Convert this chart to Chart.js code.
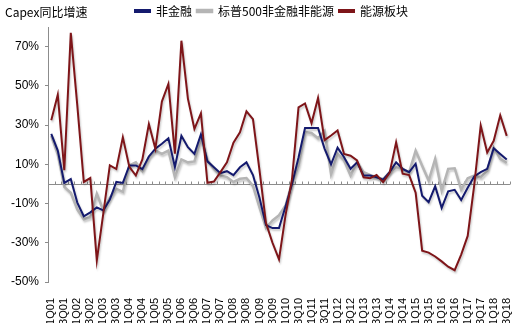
<!DOCTYPE html>
<html>
<head>
<meta charset="utf-8">
<script src="https://cdn.jsdelivr.net/npm/chart.js@4"></script>
<style>
  html, body { margin: 0; padding: 0; background: #fff; }
  #wrap { position: relative; width: 528px; height: 323px; }
  #title { position: absolute; left: 5px; top: 3px; font: 12px "Noto Sans CJK SC", sans-serif; color: #000; }
</style>
</head>
<body>
<div id="wrap">
  <canvas id="capexChart"></canvas>
  <div id="title">Capex同比增速</div>
</div>
<script>
// 季度
const quarters = [
  '1Q01','2Q01','3Q01','4Q01','1Q02','2Q02','3Q02','4Q02',
  '1Q03','2Q03','3Q03','4Q03','1Q04','2Q04','3Q04','4Q04',
  '1Q05','2Q05','3Q05','4Q05','1Q06','2Q06','3Q06','4Q06',
  '1Q07','2Q07','3Q07','4Q07','1Q08','2Q08','3Q08','4Q08',
  '1Q09','2Q09','3Q09','4Q09','1Q10','2Q10','3Q10','4Q10',
  '1Q11','2Q11','3Q11','4Q11','1Q12','2Q12','3Q12','4Q12',
  '1Q13','2Q13','3Q13','4Q13','1Q14','2Q14','3Q14','4Q14',
  '1Q15','2Q15','3Q15','4Q15','1Q16','2Q16','3Q16','4Q16',
  '1Q17','2Q17','3Q17','4Q17','1Q18','2Q18','3Q18'
];

// 非金融
const nonFinancial = [
  25.5, 17, 0.5, 2.5, -9.5, -16.5, -14.5, -12,
  -13.5, -8, 1, 0.5, 9.4, 9.4, 7.5, 14,
  18, 20.5, 23.3, 8.6, 24.5, 18.7, 15.3, 25.3,
  11.5, 8.5, 5.5, 6.5, 4.5, 8.5, 11, 4.5,
  -7, -21, -22.5, -22.5, -11.5, 0, 13.5, 28.5,
  28.5, 28.5, 18, 10, 18.5, 13.6, 7.7, 11,
  4.3, 4.3, 3.4, 2.2, 6, 11, 7.7, 6,
  10.3, -6, -9.3, -1.2, -12.2, -3.8, -3, -8.2,
  -2, 3.8, 6, 7.7, 18.2, 15.3, 12.5
];

// 标普500非金融非能源
const spxExEnergy = [
  24.5, 15, -1.5, -4.5, -13, -18, -17, -5,
  -13.5, -7, -2.5, -4, 9.4, 11, 6.5, 13.6,
  17, 15.3, 17, 3.5, 12.5, 11, 11.5, 23,
  12, 7.7, 4.3, 3.5, 1, 2.6, 3, -1,
  -12, -22.5, -18.6, -16, -11, 0.8, 9.3, 26.5,
  26, 23.3, 27, 5, 15.3, 12, 4.3, 11,
  6, 4.6, 3.4, 2.5, 6, 8.5, 7.7, 6,
  17, 9.3, 1.7, 12.8, -3.4, 7.7, 8, -2.9,
  2.9, 4.3, 3.4, 6.8, 18.6, 12.8, 10.7
];

// 能源板块
const energy = [
  32.5, 45.5, 7, 77, 40, 1, 3, -39,
  -15, 9.5, 7.6, 23.8, 8.7, 4.3, 12.5, 30.5,
  18, 42, 51, 15.4, 73, 43.5, 28, 36,
  0.6, 1.2, 6, 11, 21, 26.3, 37, 33,
  7, -20, -30, -38.5, -16, 2.5, 39, 41,
  31, 43.8, 22.3, 24.7, 27.3, 15.3, 14.4, 12,
  3.4, 2.9, 4.6, 0.9, 5.6, 21.2, 5.2, 4.5,
  -4.5, -34, -35, -37, -39.5, -42.2, -44, -36,
  -26.5, -0.8, 29.7, 16, 22, 35, 24.5
];

// 纵轴刻度
const yTicks = [-50, -30, -10, 10, 30, 50, 70];

// 零线和季度刻度, 图例右移
const zeroLine = {
  id: 'zeroLine',
  afterLayout(chart) {
    chart.legend.left += 10;
    chart.legend.right += 10;
  },
  beforeDatasetsDraw(chart) {
    const { ctx, chartArea, scales } = chart;
    const y0 = Math.round(scales.y.getPixelForValue(0)) + 0.5;
    const step = scales.x.getPixelForValue(1) - scales.x.getPixelForValue(0);
    ctx.save();
    ctx.strokeStyle = '#8c8c8c';
    ctx.lineWidth = 1;
    ctx.beginPath();
    ctx.moveTo(chartArea.left, y0);
    ctx.lineTo(chartArea.right, y0);
    for (let i = 0; i <= quarters.length; i++) {
      const x = Math.round(scales.x.getPixelForValue(i) - step / 2) + 0.5;
      ctx.moveTo(x, y0);
      ctx.lineTo(x, y0 - 3);
    }
    ctx.stroke();
    ctx.restore();
  },
  beforeDatasetDraw(chart) {
    const c = chart.ctx;
    c.save();
    c.shadowColor = 'rgba(0, 0, 0, 0.22)';
    c.shadowBlur = 2;
    c.shadowOffsetX = 1;
    c.shadowOffsetY = 2;
  },
  afterDatasetDraw(chart) {
    chart.ctx.restore();
  }
};

const ctx = document.getElementById('capexChart').getContext('2d');
const capexChart = new Chart(ctx, {
  type: 'line',
  data: {
    labels: quarters,
    datasets: [{
      label: '非金融',
      data: nonFinancial,
      borderColor: '#141a6e',
      backgroundColor: '#141a6e',
      borderWidth: 2,
      order: 2
    }, {
      label: '标普500非金融非能源',
      data: spxExEnergy,
      borderColor: '#b5b5b5',
      backgroundColor: '#b5b5b5',
      borderWidth: 2.5,
      order: 3
    }, {
      label: '能源板块',
      data: energy,
      borderColor: '#7e1519',
      backgroundColor: '#7e1519',
      borderWidth: 2,
      order: 1
    }]
  },
  options: {
    responsive: true,
    maintainAspectRatio: false,
    animation: false,
    devicePixelRatio: 1,
    layout: { padding: { left: 5, right: 10, top: 0, bottom: 0 } },
    elements: {
      point: { radius: 0 },
      line: { tension: 0 }
    },
    plugins: {
      tooltip: { enabled: false },
      legend: {
        position: 'top',
        labels: {
          boxWidth: 15,
          boxHeight: 2,
          padding: 5,
          color: '#000',
          font: { family: '"Noto Sans CJK SC", sans-serif', size: 12 },
          sort: (a, b) => a.datasetIndex - b.datasetIndex
        }
      }
    },
    scales: {
      x: {
        offset: true,
        grid: { display: false },
        border: { display: false },
        afterFit: scale => {
          scale.height = 41;
        },
        ticks: {
          autoSkip: false,
          minRotation: 90,
          maxRotation: 90,
          padding: 8,
          color: '#000',
          font: { family: '"Liberation Sans", Arial, sans-serif', size: 11 },
          callback: function(value, index) {
            return index % 2 === 0 ? quarters[index] : '';
          }
        }
      },
      y: {
        min: -50,
        max: 80,
        afterBuildTicks: scale => {
          scale.ticks = yTicks.map(v => ({ value: v }));
        },
        grid: {
          display: true,
          drawOnChartArea: false,
          drawTicks: true,
          tickLength: 3,
          color: '#8c8c8c'
        },
        border: { display: true, color: '#8c8c8c', width: 1 },
        ticks: {
          padding: 6,
          color: '#000',
          font: { family: '"Liberation Sans", Arial, sans-serif', size: 12 },
          callback: value => value + '%'
        }
      }
    }
  },
  plugins: [zeroLine]
});
</script>
</body>
</html>
